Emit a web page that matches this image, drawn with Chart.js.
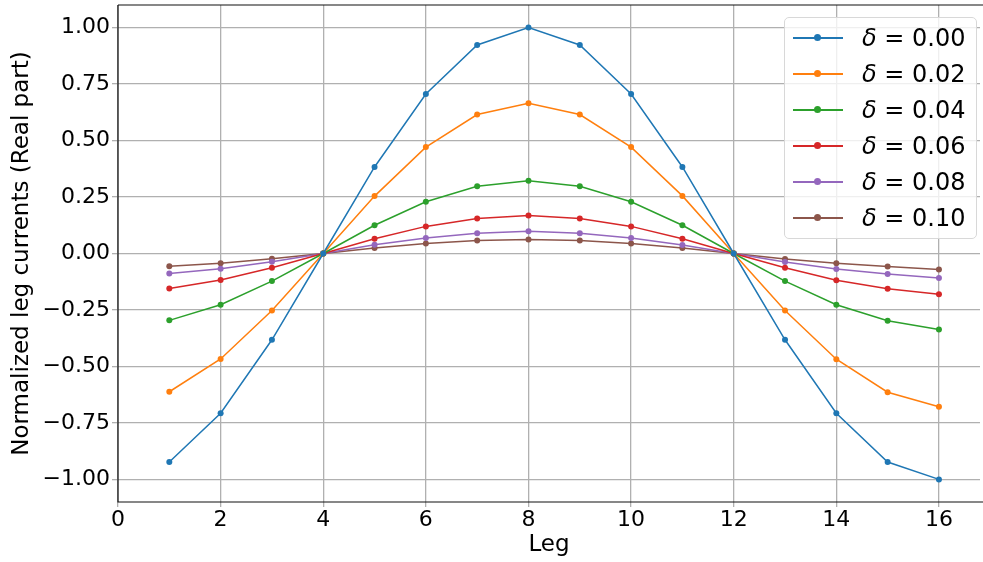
<!DOCTYPE html>
<html>
<head>
<meta charset="utf-8">
<script src="https://cdn.jsdelivr.net/npm/chart.js@4/dist/chart.umd.min.js"></script>
<style>
html,body{margin:0;padding:0;background:#fff;}
#wrap{position:relative;width:983px;height:562px;overflow:hidden;}
#legend{position:absolute;left:784px;top:17px;width:193px;height:222px;border:1px solid #d8d8d8;border-radius:5px;background:rgba(255,255,255,0.8);box-sizing:border-box;font-family:"DejaVu Sans",sans-serif;font-size:24px;color:#000;}
.row{position:absolute;left:0;height:36px;display:flex;align-items:center;}
.sample{position:relative;width:50px;height:36px;margin-left:8px;margin-right:19px;}
.sample .ln{position:absolute;left:0;top:17px;width:50px;height:2px;}
.sample .mk{position:absolute;left:21px;top:14px;width:7px;height:7px;border-radius:50%;}
</style>
</head>
<body>
<div id="wrap">
<canvas id="c" width="983" height="562"></canvas>
<div id="legend"></div>
</div>
<script>
const legs = [1,2,3,4,5,6,7,8,9,10,11,12,13,14,15,16];
const seriesLabels = ["δ = 0.00","δ = 0.02","δ = 0.04","δ = 0.06","δ = 0.08","δ = 0.10"];
const d000 = [-0.923,-0.707,-0.382,0,0.383,0.706,0.923,1.000,0.923,0.706,0.383,0,-0.382,-0.707,-0.923,-1.000];
const d002 = [-0.612,-0.467,-0.252,0,0.254,0.471,0.615,0.665,0.615,0.471,0.255,0,-0.252,-0.468,-0.614,-0.678];
const d004 = [-0.296,-0.227,-0.122,0,0.125,0.229,0.298,0.322,0.298,0.229,0.125,0,-0.122,-0.227,-0.298,-0.336];
const d006 = [-0.155,-0.117,-0.063,0,0.065,0.120,0.155,0.168,0.155,0.120,0.065,0,-0.063,-0.118,-0.156,-0.180];
const d008 = [-0.088,-0.068,-0.037,0,0.039,0.069,0.090,0.099,0.090,0.069,0.038,0,-0.038,-0.069,-0.091,-0.108];
const d010 = [-0.056,-0.043,-0.023,0,0.024,0.044,0.058,0.062,0.058,0.044,0.024,0,-0.024,-0.043,-0.058,-0.071];
const xTicks = [0,2,4,6,8,10,12,14,16];
const yTicks = [-1.00,-0.75,-0.50,-0.25,0.00,0.25,0.50,0.75,1.00];
const colors = ["#1f77b4","#ff7f0e","#2ca02c","#d62728","#9467bd","#8c564b"];
const allSeries = [d000,d002,d004,d006,d008,d010];

const datasets = allSeries.map((vals,i)=>({
  label: seriesLabels[i],
  data: legs.map((x,j)=>({x:x,y:vals[j]})),
  borderColor: colors[i],
  backgroundColor: colors[i],
  borderWidth: 1.5,
  pointRadius: 3,
  pointHoverRadius: 3,
  pointBorderWidth: 0,
  tension: 0
}));

const frame = {
  id:'frame',
  afterDraw(chart){
    const {ctx, chartArea:a} = chart;
    ctx.save();
    ctx.strokeStyle='#111';
    ctx.lineWidth=1.2;
    ctx.beginPath();
    ctx.moveTo(a.left, a.top); ctx.lineTo(a.right+5, a.top);
    ctx.moveTo(a.left, a.top); ctx.lineTo(a.left, a.bottom);
    ctx.lineTo(a.right+5, a.bottom);
    ctx.stroke();
    ctx.restore();
  }
};

const fmt = v => (v<0?"\u2212":"") + Math.abs(v).toFixed(2);
const tickFont = {family:"DejaVu Sans", size:22};
const titleFont = {family:"DejaVu Sans", size:23};

new Chart(document.getElementById('c'), {
  type:'line',
  data:{datasets},
  options:{
    responsive:false,
    animation:false,
    layout:{padding:{top:5,left:0,right:0,bottom:0}},
    plugins:{legend:{display:false}, tooltip:{enabled:false}},
    scales:{
      x:{
        type:'linear', min:0, max:16.8,
        afterFit(s){ s.height = 60; s.paddingLeft = 0; s.paddingRight = 0; },
        afterBuildTicks(s){ s.ticks = xTicks.map(v=>({value:v})); },
        ticks:{font:tickFont, color:'#000', padding:0, maxRotation:0, callback:v=>String(v)},
        grid:{color:'#b0b0b0', lineWidth:1.3, tickColor:'#b0b0b0', tickLength:5},
        border:{display:false},
        title:{display:true, text:'Leg', font:titleFont, color:'#000', padding:{top:0,bottom:3}}
      },
      y:{
        type:'linear', min:-1.1, max:1.1,
        afterFit(s){ s.width = 118; s.paddingTop = 0; s.paddingBottom = 0; },
        afterBuildTicks(s){ s.ticks = yTicks.map(v=>({value:v})); },
        ticks:{font:tickFont, color:'#000', padding:2, callback:v=>fmt(v)},
        grid:{color:'#b0b0b0', lineWidth:1.3, tickColor:'#b0b0b0', tickLength:6},
        border:{display:false},
        title:{display:true, text:'Normalized leg currents (Real part)', font:titleFont, color:'#000', padding:{top:8,bottom:0}}
      }
    }
  },
  plugins:[frame]
});

const lg = document.getElementById('legend');
datasets.forEach((ds,i)=>{
  const r = document.createElement('div');
  r.className='row';
  r.style.top = (2 + i*36) + 'px';
  r.innerHTML = '<div class="sample"><div class="ln" style="background:'+ds.borderColor+'"></div><div class="mk" style="background:'+ds.borderColor+'"></div></div><span>'+ds.label.replace('δ','<i>δ</i>')+'</span>';
  lg.appendChild(r);
});
</script>
</body>
</html>
